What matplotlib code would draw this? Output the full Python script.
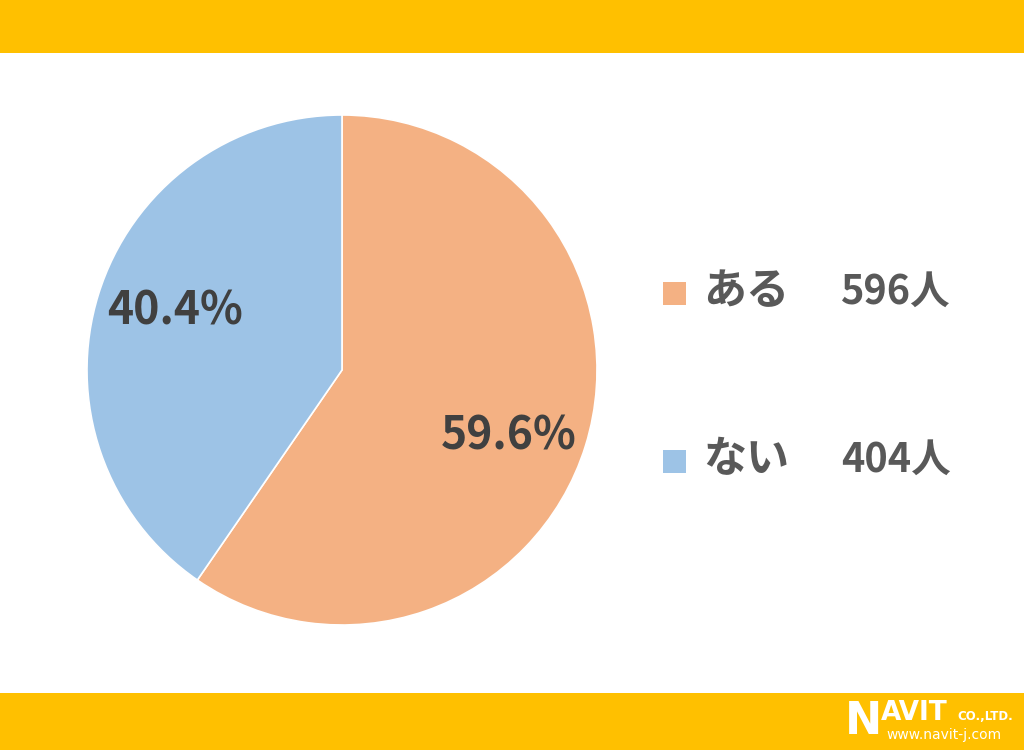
import numpy as np
import matplotlib.pyplot as plt
from matplotlib.patches import Rectangle

plt.rcParams['font.family'] = ['Noto Sans CJK JP', 'DejaVu Sans']

# データ
labels = ['ある', 'ない']
counts = [596, 404]
percents = [59.6, 40.4]
colors = ['#F4B183', '#9DC3E6']

W, H = 1024, 750
fig = plt.figure(figsize=(W / 100, H / 100), dpi=100)
fig.patch.set_facecolor('white')

# 上下の帯
fig.patches.append(Rectangle((0, 1 - 53 / H), 1, 53 / H, transform=fig.transFigure,
                             facecolor='#FFC000', edgecolor='none', zorder=0))
fig.patches.append(Rectangle((0, 0), 1, 57 / H, transform=fig.transFigure,
                             facecolor='#FFC000', edgecolor='none', zorder=0))

# 円グラフ
cx, cy, r = 342, 370, 255
ax = fig.add_axes([(cx - r) / W, (H - cy - r) / H, 2 * r / W, 2 * r / H])
wedges, texts, autotexts = ax.pie(
    counts, colors=colors, startangle=90, counterclock=False,
    autopct=lambda p: '{:.1f}%'.format(p), pctdistance=0.70,
    wedgeprops=dict(edgecolor='white', linewidth=1.2),
    textprops=dict(fontsize=32, fontweight='bold', color='#404040'))
# ラベルを少し時計回りにずらし、少し下げる
rot = np.deg2rad(-3.3)
for t in autotexts:
    x, y = t.get_position()
    t.set_position((x * np.cos(rot) - y * np.sin(rot),
                    x * np.sin(rot) + y * np.cos(rot) - 0.016))
ax.set_xlim(-1, 1)
ax.set_ylim(-1, 1)
ax.axis('off')

# 凡例
rows_y = [293, 461]
for lab, n, col, y in zip(labels, counts, colors, rows_y):
    fig.patches.append(Rectangle((663 / W, 1 - (y + 12) / H), 23 / W, 23 / H,
                                 transform=fig.transFigure, facecolor=col,
                                 edgecolor='none'))
    fig.text(703 / W, 1 - (y - 2) / H, lab, fontsize=31, fontweight='bold',
             color='#595959', va='center', ha='left')
    fig.text(841 / W, 1 - (y - 1) / H, '{}人'.format(n), fontsize=28.5, fontweight='bold',
             color='#595959', va='center', ha='left')

# ロゴ
fig.text(845 / W, 1 - 722 / H, 'N', fontsize=32, fontweight='bold', color='white',
         va='center', ha='left', family='DejaVu Sans')
fig.text(881 / W, 1 - 713 / H, 'AVIT', fontsize=19, fontweight='bold', color='white',
         va='center', ha='left', family='DejaVu Sans')
fig.text(957 / W, 1 - 717 / H, 'CO.,LTD.', fontsize=8.5, fontweight='bold', color='white',
         va='center', ha='left', family='DejaVu Sans')
fig.text(886 / W, 1 - 735 / H, 'www.navit-j.com', fontsize=10, color='white',
         va='center', ha='left', family='DejaVu Sans')

fig.savefig('out.png', dpi=100, facecolor='white')
